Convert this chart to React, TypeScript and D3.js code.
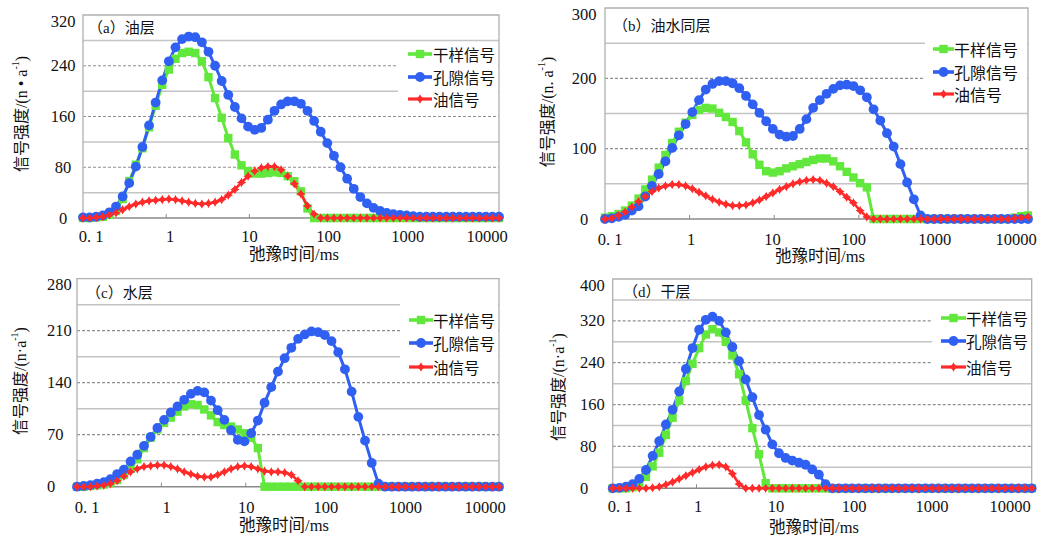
import React from 'react';
import * as d3 from 'd3';

// ---------- DATA ----------
// T2 relaxation time bins (ms), 64 log-spaced bins from 0.1 to 10000
const T2 = [
  0.1, 0.1201, 0.1441, 0.173, 0.2077, 0.2493, 0.2993, 0.3594,
  0.4314, 0.5179, 0.6218, 0.7464, 0.8962, 1.076, 1.292, 1.551,
  1.862, 2.236, 2.683, 3.221, 3.867, 4.642, 5.572, 6.69,
  8.032, 9.642, 11.58, 13.9, 16.68, 20.03, 24.04, 28.86,
  34.65, 41.6, 49.94, 59.95, 71.97, 86.41, 103.7, 124.5,
  149.5, 179.5, 215.4, 258.6, 310.5, 372.8, 447.5, 537.3,
  645.0, 774.3, 929.6, 1116, 1340, 1608, 1931, 2318,
  2783, 3341, 4011, 4816, 5781, 6940, 8332, 10000,
];

const X_TICKS = [0.1, 1, 10, 100, 1000, 10000];
const X_TICK_LABELS = ['0. 1', '1', '10', '100', '1000', '10000'];
const SERIES_NAMES = ['干样信号', '孔隙信号', '油信号'];
const X_TITLE = '弛豫时间/ms';

// (a) 油层
const dryA = [
  0, 0, 1, 2, 5, 11, 30, 58,
  84, 110, 143, 177, 210, 234, 251, 260,
  262, 260, 247, 222, 189, 158, 126, 100,
  83, 74, 70, 70, 71, 72, 71, 66,
  58, 42, 15, 0, 0, 0, 0, 0,
  0, 0, 0, 0, 0, 0, 0, 0,
  0, 0, 0, 0, 0, 0, 0, 0,
  0, 0, 0, 0, 0, 0, 0, 0,
];
const poreA = [
  1, 1, 2, 4, 9, 18, 34, 55,
  81, 112, 146, 182, 217, 247, 269, 282,
  286, 285, 277, 262, 240, 216, 194, 175,
  157, 144, 139, 142, 155, 169, 179, 184,
  184, 180, 169, 153, 136, 118, 98, 80,
  62, 46, 33, 23, 16, 11, 8, 6,
  5, 4, 3, 2, 2, 2, 2, 2,
  2, 2, 2, 2, 2, 2, 2, 2,
];
const oilA = [
  0, 0, 1, 2, 5, 8, 13, 18,
  22, 25, 27, 28, 29, 30, 29, 27,
  25, 23, 22, 23, 25, 29, 36, 45,
  56, 66, 74, 79, 81, 81, 76, 66,
  54, 38, 19, 6, 0, 0, 0, 0,
  0, 0, 0, 0, 0, 0, 0, 0,
  0, 0, 0, 0, 0, 0, 0, 0,
  0, 0, 0, 0, 0, 0, 0, 0,
];

// (b) 油水同层
const dryB = [
  2, 4, 7, 12, 19, 29, 42, 56,
  73, 91, 108, 124, 137, 148, 155, 158,
  157, 151, 145, 138, 125, 109, 92, 77,
  68, 66, 68, 72, 75, 78, 81, 84,
  86, 86, 82, 75, 67, 59, 51, 45,
  0, 0, 0, 0, 0, 0, 0, 0,
  0, 0, 0, 0, 0, 0, 0, 0,
  0, 0, 0, 0, 0, 2, 4, 5,
];
const poreB = [
  0, 1, 3, 6, 12, 18, 32, 47,
  64, 82, 101, 119, 135, 152, 169, 184,
  192, 196, 196, 193, 186, 175, 163, 151,
  139, 128, 120, 117, 118, 128, 142, 158,
  169, 178, 185, 190, 191, 189, 183, 173,
  156, 140, 122, 103, 78, 52, 28, 5,
  0, 0, 0, 0, 0, 0, 0, 0,
  0, 0, 0, 0, 0, 0, 0, 0,
];
const oilB = [
  0, 1, 5, 10, 17, 25, 32, 39,
  44, 47, 49, 49, 47, 43, 38, 33,
  28, 24, 21, 19, 19, 20, 23, 27,
  32, 37, 42, 46, 50, 53, 55, 56,
  55, 51, 46, 39, 31, 23, 12, 3,
  0, 0, 0, 0, 0, 0, 0, 0,
  0, 0, 0, 0, 0, 0, 0, 0,
  0, 0, 0, 0, 0, 1, 2, 3,
];

// (c) 水层
const dryC = [
  0, 0, 1, 2, 3, 5, 9, 16,
  24, 37, 52, 66, 77, 86, 93, 101,
  108, 111, 110, 104, 96, 87, 83, 81,
  77, 72, 66, 52, 0, 0, 0, 0,
  0, 0, 0, 0, 0, 0, 0, 0,
  0, 0, 0, 0, 0, 0, 0, 0,
  0, 0, 0, 0, 0, 0, 0, 0,
  0, 0, 0, 0, 0, 0, 0, 0,
];
const poreC = [
  0, 1, 2, 4, 6, 10, 17, 23,
  34, 43, 55, 67, 79, 90, 100, 108,
  117, 125, 129, 127, 116, 103, 90, 76,
  63, 61, 72, 89, 113, 134, 155, 173,
  187, 199, 205, 209, 208, 204, 196, 181,
  158, 128, 94, 62, 32, 4, 0, 0,
  0, 0, 0, 0, 0, 0, 0, 0,
  0, 0, 0, 0, 0, 0, 0, 0,
];
const oilC = [
  0, 0, 0, 1, 2, 4, 8, 14,
  20, 24, 27, 28, 29, 29, 27, 24,
  20, 17, 14, 13, 13, 16, 20, 24,
  27, 28, 27, 24, 21, 20, 20, 19,
  16, 8, 0, 0, 0, 0, 0, 0,
  0, 0, 0, 0, 0, 0, 0, 0,
  0, 0, 0, 0, 0, 0, 0, 0,
  0, 0, 0, 0, 0, 0, 0, 0,
];

// (d) 干层
const dryD = [
  0, 0, 0, 2, 8, 22, 42, 68,
  102, 135, 168, 205, 238, 268, 294, 304,
  298, 280, 254, 218, 168, 115, 65, 10,
  0, 0, 0, 0, 0, 0, 0, 0,
  0, 0, 0, 0, 0, 0, 0, 0,
  0, 0, 0, 0, 0, 0, 0, 0,
  0, 0, 0, 0, 0, 0, 0, 0,
  0, 0, 0, 0, 0, 0, 0, 0,
];
const poreD = [
  0, 1, 3, 8, 18, 35, 62, 90,
  122, 150, 185, 228, 268, 303, 322, 328,
  320, 298, 270, 243, 208, 174, 140, 112,
  84, 67, 58, 53, 49, 45, 36, 26,
  8, 0, 0, 0, 0, 0, 0, 0,
  0, 0, 0, 0, 0, 0, 0, 0,
  0, 0, 0, 0, 0, 0, 0, 0,
  0, 0, 0, 0, 0, 0, 0, 0,
];
const oilD = [
  0, 0, 0, 0, 0, 0, 1, 3,
  7, 12, 18, 24, 30, 36, 41, 44,
  45, 41, 28, 8, 0, 0, 0, 0,
  0, 0, 0, 0, 0, 0, 0, 0,
  0, 0, 0, 0, 0, 0, 0, 0,
  0, 0, 0, 0, 0, 0, 0, 0,
  0, 0, 0, 0, 0, 0, 0, 0,
  0, 0, 0, 0, 0, 0, 0, 0,
];

// ---------- STYLE / LAYOUT ----------
const FONT = "'Liberation Serif', 'Noto Sans CJK SC', serif";
const CJK = "'Noto Sans CJK SC', sans-serif";
const C_DRY = '#62e83c';
const C_PORE = '#3060f2';
const C_OIL = '#ff2a2a';

type Legend = { box: [number, number, number, number]; lx0: number; lx1: number; tx: number; rows: number[]; fs: number };
type Cfg = {
  title: string; titleX: number; titleY: number;
  dry: number[]; pore: number[]; oil: number[];
  yMax: number; yStep: number; unit: string;
  left: number; right: number; top: number; bottom: number;
  yLabelX: number; yLabelAnchor: string;
  xLabelFirst: number; xLabelLast: number; xLabelY: number;
  xTitleX: number; xTitleY: number; yTitleX: number; yTitleY: number;
  legend: Legend;
};

const PANELS: Cfg[] = [
  {
    title: '（a）油层', titleX: 88, titleY: 28,
    dry: dryA, pore: poreA, oil: oilA, yMax: 320, yStep: 80, unit: 'n • a',
    left: 83, right: 499, top: 15, bottom: 218,
    yLabelX: 63, yLabelAnchor: 'middle',
    xLabelFirst: 91, xLabelLast: 487, xLabelY: 236,
    xTitleX: 294, xTitleY: 254, yTitleX: 21, yTitleY: 114,
    legend: { box: [398, 44, 100, 68], lx0: 408, lx1: 432, tx: 433, rows: [54, 77, 99], fs: 15.5 },
  },
  {
    title: '（b）油水同层', titleX: 613, titleY: 26,
    dry: dryB, pore: poreB, oil: oilB, yMax: 300, yStep: 100, unit: 'n. a',
    left: 605, right: 1028, top: 8, bottom: 219,
    yLabelX: 584, yLabelAnchor: 'middle',
    xLabelFirst: 610, xLabelLast: 1016, xLabelY: 239,
    xTitleX: 820, xTitleY: 256, yTitleX: 547, yTitleY: 112,
    legend: { box: [925, 30, 102, 80], lx0: 933, lx1: 954, tx: 954, rows: [49, 72, 94], fs: 16 },
  },
  {
    title: '（c）水层', titleX: 86, titleY: 293,
    dry: dryC, pore: poreC, oil: oilC, yMax: 280, yStep: 70, unit: 'n·a',
    left: 77, right: 499, top: 278.7, bottom: 486.7,
    yLabelX: 47, yLabelAnchor: 'start',
    xLabelFirst: 87, xLabelLast: 485, xLabelY: 507,
    xTitleX: 284, xTitleY: 525, yTitleX: 20, yTitleY: 381,
    legend: { box: [400, 296, 98, 82], lx0: 409, lx1: 433, tx: 433, rows: [320, 343, 367], fs: 15.5 },
  },
  {
    title: '（d）干层', titleX: 623, titleY: 292,
    dry: dryD, pore: poreD, oil: oilD, yMax: 400, yStep: 80, unit: 'n·a',
    left: 612.7, right: 1031.7, top: 279, bottom: 488.3,
    yLabelX: 580, yLabelAnchor: 'start',
    xLabelFirst: 620, xLabelLast: 1010, xLabelY: 506,
    xTitleX: 814, xTitleY: 527, yTitleX: 558, yTitleY: 387,
    legend: { box: [932, 303, 99, 75], lx0: 941, lx1: 966, tx: 966, rows: [318, 341, 367], fs: 15.5 },
  },
];

const diamond = 'M0,-4.8L1.4,-1.4L4.8,0L1.4,1.4L0,4.8L-1.4,1.4L-4.8,0L-1.4,-1.4Z';

function Marker({ kind, cx, cy }: { kind: number; cx: number; cy: number }) {
  if (kind === 0) return <rect x={cx - 4.2} y={cy - 4.2} width={8.4} height={8.4} fill={C_DRY} />;
  if (kind === 1) return <circle cx={cx} cy={cy} r={4.9} fill={C_PORE} />;
  return (
    <g transform={`translate(${cx},${cy})`}>
      <path d={diamond} fill={C_OIL} />
      <rect x={-2.6} y={-2.6} width={5.2} height={5.2} transform="rotate(45)" fill={C_OIL} />
    </g>
  );
}

function Panel({ cfg }: { cfg: Cfg }) {
  const x = d3.scaleLog().domain([T2[0], T2[T2.length - 1]]).range([cfg.left, cfg.right]);
  const y = d3.scaleLinear().domain([0, cfg.yMax]).range([cfg.bottom, cfg.top]);
  const labelPos = d3.scaleLinear().domain([0, X_TICKS.length - 1]).range([cfg.xLabelFirst, cfg.xLabelLast]);
  const half = cfg.yStep / 2;
  const grid = d3.range(half, cfg.yMax - 0.01, half);
  const yLabels = d3.range(0, cfg.yMax + 0.01, cfg.yStep);
  const line = d3.line<number>().x((_, i) => x(T2[i])).y((d) => y(d));
  const series = [cfg.dry, cfg.pore, cfg.oil];
  const colors = [C_DRY, C_PORE, C_OIL];
  const widths = [3, 3, 2.6];
  const lg = cfg.legend;

  return (
    <g>
      {/* gridlines */}
      {grid.map((g) => {
        const dashed = Math.abs(g % cfg.yStep) < 0.01;
        return (
          <line key={g} x1={cfg.left} x2={cfg.right} y1={y(g)} y2={y(g)}
            stroke={dashed ? '#8f8f8f' : '#c4c4c4'} strokeWidth={dashed ? 1.2 : 1.5}
            strokeDasharray={dashed ? '3 2' : undefined} />
        );
      })}
      {/* plot frame */}
      <path d={`M${cfg.left},${cfg.bottom}V${cfg.top}H${cfg.right}V${cfg.bottom}`} fill="none" stroke="#b0b0b0" strokeWidth={1.3} />
      <line x1={cfg.left} x2={cfg.right} y1={cfg.bottom} y2={cfg.bottom} stroke="#8a8a8a" strokeWidth={1.5} />
      {X_TICKS.map((t) => (
        <line key={t} x1={x(t)} x2={x(t)} y1={cfg.bottom} y2={cfg.bottom - 4} stroke="#8a8a8a" strokeWidth={1} />
      ))}
      {/* legend background */}
      <rect x={lg.box[0]} y={lg.box[1]} width={lg.box[2]} height={lg.box[3]} fill="#fff" />
      {/* series */}
      {series.map((s, k) => (
        <path key={k} d={line(s) || ''} fill="none" stroke={colors[k]} strokeWidth={widths[k]} />
      ))}
      {series.map((s, k) => (
        <g key={'m' + k}>
          {s.map((v, i) => <Marker key={i} kind={k} cx={x(T2[i])} cy={y(v)} />)}
        </g>
      ))}
      {/* y tick labels */}
      {yLabels.map((v) => (
        <text key={v} x={cfg.yLabelX} y={Math.max(y(v), cfg.top + 6)} textAnchor={cfg.yLabelAnchor as any}
          dominantBaseline="central" fontFamily={FONT} fontSize={16.5} fill="#111">{v}</text>
      ))}
      {/* x tick labels */}
      {X_TICK_LABELS.map((t, i) => (
        <text key={t} x={labelPos(i)} y={cfg.xLabelY} textAnchor="middle" dominantBaseline="central"
          fontFamily={FONT} fontSize={16.5} fill="#111">{t}</text>
      ))}
      {/* axis titles */}
      <text x={cfg.xTitleX} y={cfg.xTitleY} textAnchor="middle" dominantBaseline="central"
        fontFamily={FONT} fontSize={16.5} fill="#111">{X_TITLE}</text>
      <text transform={`translate(${cfg.yTitleX},${cfg.yTitleY}) rotate(-90)`} textAnchor="middle" dominantBaseline="central"
        fontFamily={FONT} fontSize={16} fill="#111">
        信号强度/({cfg.unit}<tspan dy={-6} fontSize={10}>-1</tspan><tspan dy={6}>)</tspan>
      </text>
      {/* panel title */}
      <text x={cfg.titleX} y={cfg.titleY} dominantBaseline="central" fontFamily={FONT} fontSize={15} fill="#111">{cfg.title}</text>
      {/* legend */}
      {SERIES_NAMES.map((name, k) => {
        const ry = lg.rows[k];
        const mx = (lg.lx0 + lg.lx1) / 2;
        return (
          <g key={name}>
            <line x1={lg.lx0} x2={lg.lx1} y1={ry} y2={ry} stroke={colors[k]} strokeWidth={widths[k] + 0.6} />
            <Marker kind={k} cx={mx} cy={ry} />
            <text x={lg.tx} y={ry} dominantBaseline="central" fontFamily={CJK} fontSize={lg.fs} fill="#111">{name}</text>
          </g>
        );
      })}
    </g>
  );
}

export default function App() {
  return (
    <svg width={1042} height={540} viewBox="0 0 1042 540"
      style={{ position: 'absolute', left: 0, top: 0, background: '#fff' }}>
      <rect x={0} y={0} width={1042} height={540} fill="#fff" />
      {PANELS.map((p) => <Panel key={p.title} cfg={p} />)}
    </svg>
  );
}
